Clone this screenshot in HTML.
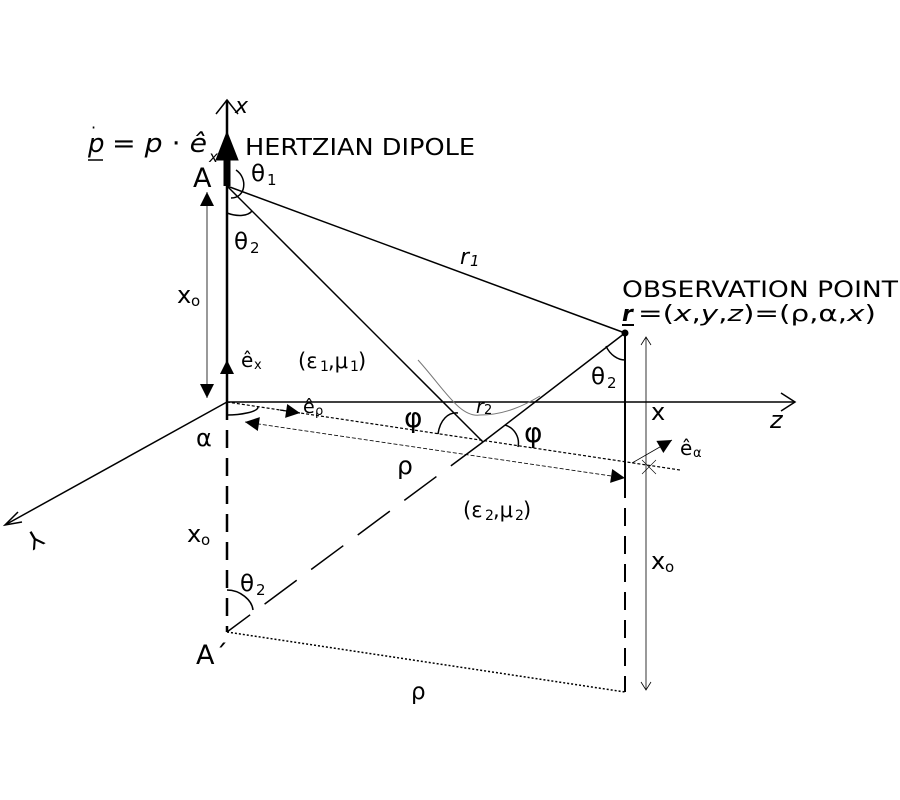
<!DOCTYPE html>
<html><head><meta charset="utf-8"><style>
html,body{margin:0;padding:0;background:#fff;}
svg{display:block;}
text{font-family:"DejaVu Sans","Liberation Sans",sans-serif;fill:#000;}
</style></head><body>
<svg width="900" height="800" viewBox="0 0 900 800" xmlns="http://www.w3.org/2000/svg">
<defs>
<marker id="fhb" viewBox="0 0 10 10" refX="10" refY="5" markerWidth="16" markerHeight="14" orient="auto-start-reverse" markerUnits="userSpaceOnUse"><path d="M0,0 L10,5 L0,10 z" fill="#000"/></marker>
</defs>
<g stroke="#000" fill="none">
<line x1="227" y1="100" x2="227" y2="402" stroke-width="2.5"/>
<path d="M216,114 L227,100 L238,114" stroke-width="1.5"/>
<line x1="227" y1="402" x2="227" y2="632" stroke-width="2.5" stroke-dasharray="18,10"/>
<line x1="227" y1="186" x2="227" y2="155" stroke-width="7"/>
<path d="M216,160 L227,132 L238,160 z" fill="#000"/>
<line x1="227" y1="402" x2="795" y2="402" stroke-width="1.5"/>
<path d="M781,393 L795,402 L781,411" stroke-width="1.5"/>
<line x1="227" y1="402" x2="5" y2="525" stroke-width="1.5"/>
<path d="M18,512 L5,525 L22,522" stroke-width="1.5"/>
<line x1="227" y1="186" x2="625" y2="333" stroke-width="1.5"/>
<line x1="227" y1="186" x2="483" y2="442" stroke-width="1.5"/>
<line x1="483" y1="442" x2="625" y2="333" stroke-width="1.5"/>
<line x1="483" y1="442" x2="227" y2="632" stroke-width="1.5" stroke-dasharray="40,18"/>
<line x1="227" y1="632" x2="625" y2="692" stroke-width="1.5" stroke-dasharray="2,2"/>
<line x1="625" y1="333" x2="625" y2="480" stroke-width="2"/>
<line x1="625" y1="480" x2="625" y2="692" stroke-width="2" stroke-dasharray="18,10"/>
<circle cx="625" cy="333" r="3" fill="#000"/>
<line x1="646" y1="337" x2="646" y2="690" stroke-width="0.8"/>
<path d="M641,345 L646,337 L651,345 M641,682 L646,690 L651,682" stroke-width="0.8"/>
<line x1="227" y1="402" x2="680" y2="470" stroke-width="1.2" stroke-dasharray="3,2"/>
<line x1="245" y1="422" x2="625" y2="478" stroke-width="0.8" stroke-dasharray="4,2" marker-start="url(#fhb)" marker-end="url(#fhb)"/>
<line x1="280" y1="410" x2="300" y2="413" stroke-width="1.2" marker-end="url(#fhb)"/>
<line x1="207" y1="192" x2="207" y2="398" stroke-width="0.8" marker-start="url(#fhb)" marker-end="url(#fhb)"/>
<line x1="227" y1="402" x2="227" y2="360" stroke-width="2" marker-end="url(#fhb)"/>
<line x1="632" y1="463" x2="672" y2="440" stroke-width="0.8" marker-end="url(#fhb)"/>
<path d="M642,460 L656,474 M656,460 L642,474" stroke-width="0.6"/>
<path d="M418,360 C445,390 460,418 480,415 C505,415 525,405 540,396" stroke="#777" stroke-width="1"/>
<path d="M231,198 C246,198 248,178 236,170" stroke-width="1.5"/>
<path d="M227,213 C238,217 248,216 252,211" stroke-width="1.5"/>
<path d="M438,434 C440,420 448,412 458,413" stroke-width="1.5"/>
<path d="M505,425 C515,428 520,438 518,447" stroke-width="1.5"/>
<path d="M606,346 C610,355 618,360 625,360" stroke-width="1.5"/>
<path d="M227,590 C240,590 252,600 253,610" stroke-width="1.5"/>
<path d="M227,415 C240,415 258,412 258,407" stroke-width="1.5"/>
</g>
<g>
<text x="235" y="113" font-size="22" font-style="italic" font-family="Liberation Serif">x</text>
<text x="88" y="152" font-size="26" font-style="italic" font-family="Liberation Serif">p</text>
<line x1="88" y1="160" x2="103" y2="160" stroke="#000" stroke-width="1.5"/>
<text x="91" y="133" font-size="16" font-family="Liberation Serif">·</text>
<text x="112" y="152" font-size="26" font-family="Liberation Serif" textLength="95" lengthAdjust="spacingAndGlyphs">= <tspan font-style="italic">p</tspan> · <tspan font-style="italic">ê</tspan></text>
<text x="209" y="162" font-size="15" font-style="italic" font-family="Liberation Serif">x</text>
<text x="245" y="155" font-size="23" textLength="230" lengthAdjust="spacingAndGlyphs">HERTZIAN DIPOLE</text>
<text x="193" y="187" font-size="27">A</text>
<text x="251" y="181" font-size="23">θ</text><text x="267" y="185" font-size="15">1</text>
<text x="234" y="249" font-size="23">θ</text><text x="250" y="253" font-size="15">2</text>
<text x="460" y="264" font-size="22" font-style="italic" font-family="Liberation Serif">r</text><text x="470" y="266" font-size="15" font-style="italic">1</text>
<text x="177" y="303" font-size="24">x</text><text x="191" y="306" font-size="15">o</text>
<text x="622" y="297" font-size="22" textLength="276" lengthAdjust="spacingAndGlyphs">OBSERVATION POINT</text>
<text x="622" y="321" font-size="22" font-style="italic" font-weight="bold">r</text>
<line x1="622" y1="325" x2="634" y2="325" stroke="#000" stroke-width="2"/>
<text x="638" y="321" font-size="22" textLength="238" lengthAdjust="spacingAndGlyphs">=(<tspan font-style="italic">x</tspan>,<tspan font-style="italic">y</tspan>,<tspan font-style="italic">z</tspan>)=(ρ,α,<tspan font-style="italic">x</tspan>)</text>
<text x="241" y="367" font-size="20">ê</text><text x="254" y="369" font-size="13">x</text>
<text x="298" y="368" font-size="21">(ε</text><text x="320" y="371" font-size="14">1</text><text x="328" y="368" font-size="21">,μ</text><text x="350" y="371" font-size="14">1</text><text x="358" y="368" font-size="21">)</text>
<text x="591" y="384" font-size="23">θ</text><text x="607" y="388" font-size="15">2</text>
<text x="303" y="413" font-size="19">ê</text><text x="315" y="415" font-size="13">ρ</text>
<text x="476" y="413" font-size="19" font-style="italic" font-family="Liberation Serif">r</text><text x="484" y="414" font-size="13">2</text>
<text x="404" y="427" font-size="28">φ</text>
<text x="524" y="442" font-size="28">φ</text>
<text x="651" y="420" font-size="24">x</text>
<text x="770" y="428" font-size="24" font-style="italic" font-family="Liberation Serif">z</text>
<text x="196" y="446" font-size="24">α</text>
<text x="397" y="474" font-size="25">ρ</text>
<text x="680" y="455" font-size="20">ê</text><text x="693" y="457" font-size="13">α</text>
<text x="463" y="517" font-size="21">(ε</text><text x="485" y="520" font-size="14">2</text><text x="493" y="517" font-size="21">,μ</text><text x="515" y="520" font-size="14">2</text><text x="523" y="517" font-size="21">)</text>
<text x="22" y="532" font-size="24" transform="rotate(150 30 532)">Y</text>
<text x="187" y="542" font-size="24">x</text><text x="201" y="545" font-size="15">o</text>
<text x="651" y="569" font-size="24">x</text><text x="665" y="572" font-size="15">o</text>
<text x="240" y="591" font-size="23">θ</text><text x="256" y="595" font-size="15">2</text>
<text x="196" y="664" font-size="27">A´</text>
<text x="411" y="699" font-size="23">ρ</text>
</g>
</svg>
</body></html>
